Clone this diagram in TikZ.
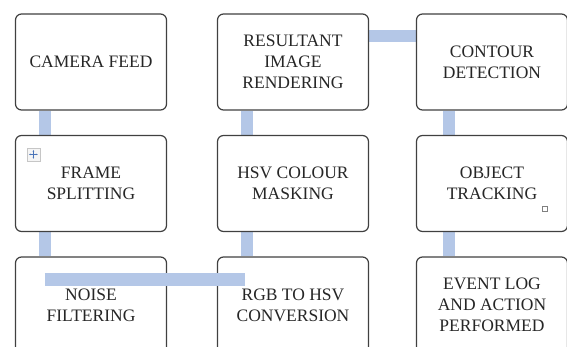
\documentclass[tikz,border=0pt]{standalone}
\usepackage{fontspec}
\setmainfont{Liberation Serif}
\usetikzlibrary{positioning,arrows.meta,backgrounds,calc}
\definecolor{ink}{HTML}{262626}
\definecolor{edge}{HTML}{404040}
\definecolor{bar}{HTML}{B4C7E7}
\definecolor{iconblue}{HTML}{4A74B8}

\begin{document}
\begin{tikzpicture}[x=1pt,y=-1pt,
  stage/.style={draw=edge,line width=1.2pt,rounded corners=6pt,fill=white,
    minimum width=151pt,minimum height=96pt,align=center,text=ink,
    font=\fontsize{17.5}{21}\selectfont,inner sep=2pt},
  link/.style={draw=bar,line width=12pt}]
  \useasboundingbox (0,0) rectangle (567,347);
  \clip (0,0) rectangle (567,347);
  % three columns of stages
  \node[stage] (cam)     at (91,62)    {CAMERA FEED};
  \node[stage] (frame)   at (91,183.5) {FRAME\\SPLITTING};
  \node[stage] (noise)   at (91,305)   {NOISE\\FILTERING};
  \node[stage] (result)  at (293,62)   {RESULTANT\\IMAGE\\RENDERING};
  \node[stage] (hsv)     at (293,183.5) {HSV COLOUR\\MASKING};
  \node[stage] (rgb)     at (293,305)  {RGB TO HSV\\CONVERSION};
  \node[stage] (contour) at (492,62)   {CONTOUR\\DETECTION};
  \node[stage] (track)   at (492,183.5) {OBJECT\\TRACKING};
  \node[stage] (event)   at (492,305)  {EVENT LOG\\AND ACTION\\PERFORMED};
  % links between the stages
  \begin{scope}[on background layer]
    \draw[link] ([xshift=30pt]cam.south west) -- ([xshift=30pt]frame.north west);
    \draw[link] ([xshift=30pt]frame.south west) -- ([xshift=30pt]noise.north west);
    \draw[link] ([xshift=30pt]rgb.north west) -- ([xshift=30pt]hsv.south west);
    \draw[link] ([xshift=30pt]hsv.north west) -- ([xshift=30pt]result.south west);
    \draw[link] ([yshift=-23pt]result.north east) -- ([yshift=-23pt]contour.north west);
    \draw[link] ([xshift=33.5pt]contour.south west) -- ([xshift=33.5pt]track.north west);
    \draw[link] ([xshift=33.5pt]track.south west) -- ([xshift=33.5pt]event.north west);
  \end{scope}
  \draw[link,line width=13pt] ([xshift=30pt,yshift=-23pt]noise.north west) -- ([xshift=28pt,yshift=-23pt]rgb.north west);
  % leftover handles
  \node[draw=gray!45,fill=gray!8,minimum size=13pt,inner sep=0pt] (grip)
    at ([xshift=18.5pt,yshift=-19.5pt]frame.north west) {};
  \draw[iconblue,line width=0.6pt,{Stealth[length=2pt]}-{Stealth[length=2pt]}]
    ([xshift=-4.5pt]grip.center) -- ([xshift=4.5pt]grip.center);
  \draw[iconblue,line width=0.6pt,{Stealth[length=2pt]}-{Stealth[length=2pt]}]
    ([yshift=-4.5pt]grip.center) -- ([yshift=4.5pt]grip.center);
  \node[draw=gray,line width=0.5pt,minimum size=5.5pt,inner sep=0pt] (handle)
    at ([xshift=-23.5pt,yshift=23.5pt]track.south east) {};
\end{tikzpicture}
\end{document}
